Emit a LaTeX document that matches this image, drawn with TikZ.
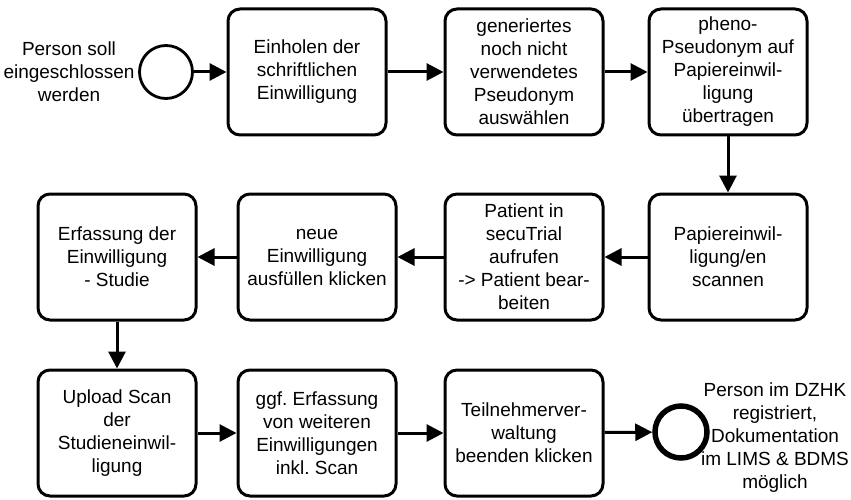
\documentclass[tikz,border=0pt]{standalone}
\usepackage{fontspec}
\setmainfont{Liberation Sans}
\usetikzlibrary{arrows.meta}
\frenchspacing

\tikzset{
    stepbox/.style={draw, line width=3pt, rounded corners=12pt, align=center,
        minimum width=158pt, minimum height=126pt, inner sep=2pt},
    startevent/.style={draw, circle, line width=2.8pt, minimum size=53pt, inner sep=0pt},
    endevent/.style={draw, circle, line width=5.5pt, minimum size=52pt, inner sep=0pt},
    flow/.style={line width=3pt, -{Triangle[length=17pt,width=17pt]}},
    every node/.style={font=\fontsize{19}{23}\selectfont}
}

\begin{document}
\begin{tikzpicture}[x=1pt, y=-1pt]
    \useasboundingbox (0,0) rectangle (851,500);

    % Start
    \node[startevent] (start) at (166,72) {};
    \node[align=center] (starttext) at (69,72) {Person soll\\eingeschlossen\\werden};

    % First row
    \node[stepbox] (einholen) at (307,72) {Einholen der\\schriftlichen\\Einwilligung};
    \node[stepbox] (auswahl) at (524,72) {generiertes\\noch nicht\\verwendetes\\Pseudonym\\auswählen};
    \node[stepbox] (uebertrag) at (728,72) {pheno-\\Pseudonym auf\\Papiereinwil-\\ligung\\übertragen};

    % Second row
    \node[stepbox] (scannen) at (728,257) {Papiereinwil-\\ligung/en\\scannen};
    \node[stepbox] (aufrufen) at (524,257) {Patient in\\secuTrial\\aufrufen\\-> Patient bear-\\beiten};
    \node[stepbox] (ausfuellen) at (317,257) {neue\\Einwilligung\\ausfüllen klicken};
    \node[stepbox] (erfassung) at (117,257) {Erfassung der\\Einwilligung\\- Studie};

    % Third row
    \node[stepbox] (upload) at (117,433) {Upload Scan\\der\\Studieneinwil-\\ligung};
    \node[stepbox] (weitere) at (317,433) {ggf. Erfassung\\von weiteren\\Einwilligungen\\inkl. Scan};
    \node[stepbox] (beenden) at (524,433) {Teilnehmerver-\\waltung\\beenden klicken};

    % End
    \node[endevent] (end) at (681,432) {};
    \node[align=center] (endtext) at (775,438) {Person im DZHK\\registriert,\\Dokumentation\\im LIMS \& BDMS\\möglich};

    % Flows
    \draw[flow] (start) -- (einholen);
    \draw[flow] (einholen) -- (auswahl);
    \draw[flow] (auswahl) -- (uebertrag);
    \draw[flow] (uebertrag) -- (scannen);
    \draw[flow] (scannen) -- (aufrufen);
    \draw[flow] (aufrufen) -- (ausfuellen);
    \draw[flow] (ausfuellen) -- (erfassung);
    \draw[flow] (erfassung) -- (upload);
    \draw[flow] (upload) -- (weitere);
    \draw[flow] (weitere) -- (beenden);
    \draw[flow] (beenden) -- (end);
\end{tikzpicture}
\end{document}
